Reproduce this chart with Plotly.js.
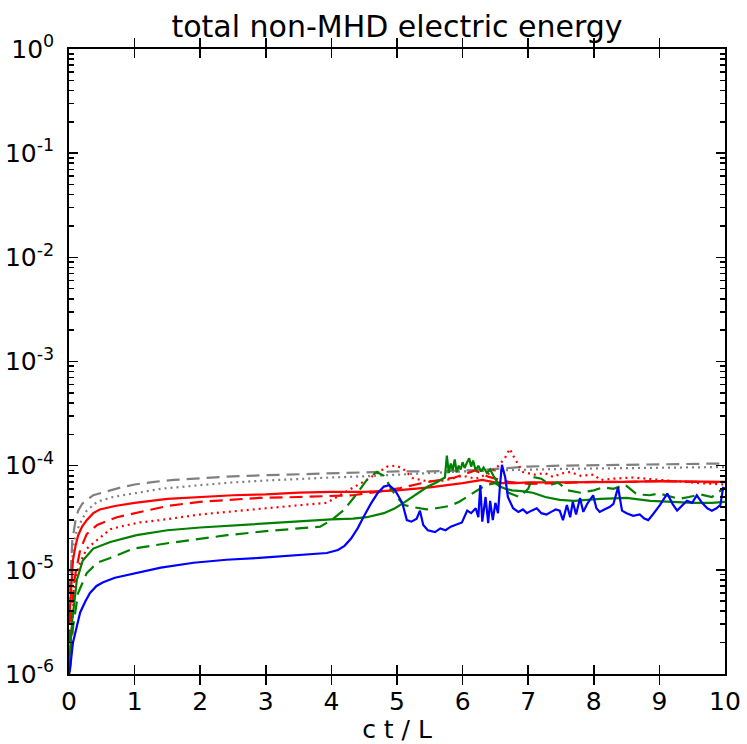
<!DOCTYPE html>
<html>
<head>
<meta charset="utf-8">
<script src="https://cdn.plot.ly/plotly-3.0.1.min.js"></script>
<style>
  html, body { margin: 0; padding: 0; background: #ffffff; }
  #chart { width: 747px; height: 744px; }
</style>
</head>
<body>
<div id="chart"></div>
<script>
// Time axis values (c t / L) and energy values for each run

const grayDashX = [0.01, 0.05, 0.1, 0.14, 0.2, 0.27, 0.37, 0.5, 0.63, 0.8,
  1.0, 1.3, 1.6, 2.0, 2.5, 3.0, 3.5, 4.0, 4.5, 5.0,
  5.5, 5.8, 6.0, 6.3, 6.6, 7.0, 7.5, 8.0, 8.5, 9.0, 9.5, 10.0];
const grayDashY = [6e-6, 1.9e-5, 3.0e-5, 3.7e-5, 4.3e-5, 4.7e-5, 5.2e-5, 5.5e-5, 5.8e-5, 6.2e-5,
  6.6e-5, 7.0e-5, 7.3e-5, 7.6e-5, 7.9e-5, 8.1e-5, 8.3e-5, 8.5e-5, 8.6e-5, 8.8e-5,
  8.8e-5, 8.9e-5, 9.0e-5, 9.1e-5, 9.4e-5, 9.8e-5, 1.0e-4, 1.01e-4, 1.02e-4, 1.03e-4, 1.04e-4, 1.05e-4];

const grayDotX = [0.01, 0.06, 0.1, 0.17, 0.27, 0.43, 0.67, 1.08, 1.4, 2.0,
  2.5, 3.0, 3.5, 4.0, 4.5, 5.0, 5.5, 6.0, 6.5, 7.0,
  7.5, 8.0, 8.5, 9.0, 9.5, 10.0];
const grayDotY = [4e-6, 1.6e-5, 2.2e-5, 2.8e-5, 3.7e-5, 4.5e-5, 5.0e-5, 5.5e-5, 6.0e-5, 6.5e-5,
  6.9e-5, 7.2e-5, 7.5e-5, 7.7e-5, 7.9e-5, 8.2e-5, 8.6e-5, 8.8e-5, 9.0e-5, 9.2e-5,
  9.3e-5, 9.4e-5, 9.5e-5, 9.5e-5, 9.6e-5, 9.7e-5];

const redSolidX = [0.0, 0.02, 0.06, 0.1, 0.14, 0.2, 0.27, 0.37, 0.47, 0.7,
  1.0, 1.5, 2.0, 2.5, 3.0, 3.5, 4.0, 4.5, 5.0, 5.5,
  6.0, 6.15, 6.3, 6.45, 6.6, 6.8, 7.0, 7.5, 8.0, 8.5,
  9.0, 9.5, 10.0];
const redSolidY = [3e-6, 5e-6, 1.24e-5, 1.7e-5, 2.15e-5, 2.6e-5, 3.0e-5, 3.5e-5, 3.8e-5, 4.1e-5,
  4.4e-5, 4.8e-5, 5.0e-5, 5.2e-5, 5.3e-5, 5.5e-5, 5.6e-5, 5.6e-5, 5.8e-5, 6.2e-5,
  6.8e-5, 7.1e-5, 7.3e-5, 7.0e-5, 6.8e-5, 6.8e-5, 6.9e-5, 6.9e-5, 6.9e-5, 7.0e-5,
  7.1e-5, 7.1e-5, 7.0e-5];

const redDashX = [0.0, 0.03, 0.09, 0.17, 0.27, 0.43, 0.73, 1.08, 1.5, 2.0,
  2.9, 3.5, 4.0, 4.33, 4.7, 5.05, 5.43, 5.88, 6.19, 6.4,
  6.7, 7.0, 7.5, 8.0, 8.5, 9.0, 9.5, 10.0];
const redDashY = [2e-6, 3.5e-6, 8.6e-6, 1.55e-5, 2.2e-5, 2.7e-5, 3.2e-5, 3.6e-5, 4.1e-5, 4.5e-5,
  4.9e-5, 5.0e-5, 5.1e-5, 5.2e-5, 5.6e-5, 6.1e-5, 6.9e-5, 7.7e-5, 9.0e-5, 7.8e-5,
  7.0e-5, 6.7e-5, 6.8e-5, 7.0e-5, 7.0e-5, 7.1e-5, 7.0e-5, 6.9e-5];

const redDotX = [0.0, 0.03, 0.09, 0.17, 0.27, 0.47, 0.63, 0.78, 1.08, 1.39,
  2.0, 3.0, 3.93, 4.28, 4.54, 4.7, 4.85, 4.97, 5.08, 5.24,
  5.4, 5.6, 5.8, 6.0, 6.2, 6.4, 6.55, 6.65, 6.72, 6.8,
  6.92, 7.1, 7.25, 7.38, 7.5, 7.64, 7.8, 8.0, 8.1, 8.3,
  8.6, 9.0, 9.3, 9.6, 10.0];
const redDotY = [1.2e-6, 2e-6, 8e-6, 1.17e-5, 1.6e-5, 2.05e-5, 2.45e-5, 2.6e-5, 2.85e-5, 3.0e-5,
  3.4e-5, 3.9e-5, 4.4e-5, 5.9e-5, 7.3e-5, 8.5e-5, 9.8e-5, 1.0e-4, 9.5e-5, 7.6e-5,
  7.2e-5, 7.0e-5, 7.4e-5, 8.0e-5, 7.5e-5, 8.4e-5, 1.0e-4, 1.2e-4, 1.45e-4, 1.15e-4,
  8.7e-5, 8.2e-5, 8.5e-5, 7.8e-5, 8.4e-5, 8.7e-5, 8.0e-5, 8.2e-5, 7.3e-5, 7.5e-5,
  7.7e-5, 7.3e-5, 7.0e-5, 6.8e-5, 6.6e-5];

const greenSolidX = [0.0, 0.02, 0.05, 0.12, 0.21, 0.37, 0.63, 1.03, 1.5, 2.0,
  2.4, 3.0, 3.5, 4.0, 4.33, 4.54, 4.8, 4.97, 5.1, 5.23,
  5.35, 5.47, 5.6, 5.73, 5.76, 5.79, 5.82, 5.85, 5.88, 5.91,
  5.94, 5.97, 6.0, 6.03, 6.06, 6.1, 6.13, 6.16, 6.2, 6.24,
  6.28, 6.32, 6.37, 6.42, 6.47, 6.52, 6.57, 6.65, 6.75, 6.9,
  7.07, 7.26, 7.48, 7.7, 8.1, 8.5, 8.86, 9.2, 9.51, 9.8,
  10.0];
const greenSolidY = [1.2e-6, 1.8e-6, 3.3e-6, 8e-6, 1.23e-5, 1.6e-5, 1.85e-5, 2.15e-5, 2.4e-5, 2.55e-5,
  2.65e-5, 2.8e-5, 2.95e-5, 3.05e-5, 3.1e-5, 3.2e-5, 3.5e-5, 3.9e-5, 4.4e-5, 5.0e-5,
  5.6e-5, 6.3e-5, 6.9e-5, 7.7e-5, 1.25e-4, 8.5e-5, 1.05e-4, 9.0e-5, 1.15e-4, 8.6e-5,
  1.0e-4, 9.2e-5, 1.08e-4, 9.5e-5, 1.05e-4, 1.18e-4, 9.8e-5, 1.12e-4, 9.0e-5, 1.0e-4,
  8.8e-5, 9.6e-5, 8.5e-5, 9.2e-5, 8.0e-5, 7.2e-5, 6.3e-5, 6.0e-5, 5.8e-5, 5.7e-5,
  5.5e-5, 5.0e-5, 4.7e-5, 4.6e-5, 4.8e-5, 4.9e-5, 4.6e-5, 4.5e-5, 4.4e-5, 4.4e-5,
  4.5e-5];

const greenDashX = [0.0, 0.02, 0.06, 0.14, 0.27, 0.43, 0.63, 0.98, 1.5, 2.0,
  2.41, 3.0, 3.5, 3.83, 4.0, 4.18, 4.35, 4.54, 4.69, 4.8,
  4.95, 5.1, 5.25, 5.45, 5.6, 5.8, 5.95, 6.06, 6.19, 6.35,
  6.5, 6.7, 6.87, 7.0, 7.07, 7.2, 7.33, 7.45, 7.6, 7.8,
  8.0, 8.14, 8.3, 8.47, 8.66, 8.85, 9.0, 9.15, 9.3, 9.45,
  9.62, 9.8, 9.9, 10.0];
const greenDashY = [1e-6, 1.2e-6, 2.8e-6, 6e-6, 9.3e-6, 1.17e-5, 1.3e-5, 1.6e-5, 1.8e-5, 2.0e-5,
  2.15e-5, 2.35e-5, 2.5e-5, 2.6e-5, 3.0e-5, 3.7e-5, 5.0e-5, 7.3e-5, 8.7e-5, 8.0e-5,
  5.5e-5, 4.2e-5, 4.0e-5, 3.8e-5, 3.9e-5, 4.1e-5, 4.5e-5, 5.0e-5, 5.6e-5, 6.5e-5,
  6.8e-5, 5.5e-5, 5.0e-5, 6.0e-5, 7.8e-5, 7.5e-5, 6.5e-5, 6.9e-5, 5.8e-5, 5.5e-5,
  5.8e-5, 6.2e-5, 6.0e-5, 6.6e-5, 5.3e-5, 5.2e-5, 5.4e-5, 5.1e-5, 4.8e-5, 5.0e-5,
  5.3e-5, 5.0e-5, 5.6e-5, 6.1e-5];

const blueX = [0.0, 0.015, 0.06, 0.12, 0.17, 0.25, 0.32, 0.42, 0.52, 0.7,
  0.88, 1.05, 1.4, 1.9, 2.4, 2.9, 3.4, 3.93, 4.1, 4.2,
  4.3, 4.4, 4.5, 4.6, 4.7, 4.8, 4.88, 4.97, 5.08, 5.15, 5.22,
  5.3, 5.35, 5.4, 5.47, 5.58, 5.66, 5.74, 5.82, 5.88, 5.99,
  6.07, 6.13, 6.2, 6.24, 6.27, 6.3, 6.35, 6.39, 6.42, 6.46,
  6.5, 6.54, 6.57, 6.6, 6.65, 6.69, 6.77, 6.85, 6.92, 6.98,
  7.05, 7.13, 7.2, 7.28, 7.35, 7.42, 7.48, 7.53, 7.59, 7.64,
  7.68, 7.73, 7.79, 7.84, 7.9, 7.99, 8.04, 8.09, 8.16, 8.24,
  8.3, 8.37, 8.43, 8.5, 8.6, 8.7, 8.77, 8.83, 8.9, 9.01,
  9.12, 9.2, 9.27, 9.35, 9.42, 9.5, 9.57, 9.65, 9.73, 9.8,
  9.87, 9.93, 9.97, 10.0];
const blueY = [1e-6, 1.1e-6, 2.0e-6, 3.0e-6, 3.9e-6, 5.0e-6, 6.0e-6, 7.0e-6, 7.6e-6, 8.4e-6,
  8.9e-6, 9.5e-6, 1.05e-5, 1.17e-5, 1.25e-5, 1.3e-5, 1.37e-5, 1.45e-5, 1.55e-5, 1.7e-5,
  2.0e-5, 2.5e-5, 3.3e-5, 4.3e-5, 5.4e-5, 6.3e-5, 6.5e-5, 5.8e-5, 4.4e-5, 3.0e-5, 2.9e-5,
  3.1e-5, 3.7e-5, 2.7e-5, 2.4e-5, 2.3e-5, 2.5e-5, 2.4e-5, 2.6e-5, 2.7e-5, 2.85e-5,
  3.7e-5, 3.5e-5, 3.9e-5, 3.2e-5, 6.5e-5, 2.9e-5, 5.0e-5, 2.8e-5, 4.6e-5, 3.0e-5,
  4.4e-5, 3.5e-5, 6.5e-5, 1.02e-4, 7.7e-5, 5.0e-5, 3.9e-5, 3.6e-5, 3.8e-5, 3.5e-5,
  3.7e-5, 3.9e-5, 3.5e-5, 3.4e-5, 3.6e-5, 3.8e-5, 3.7e-5, 3.0e-5, 4.2e-5, 3.2e-5,
  4.5e-5, 3.4e-5, 4.9e-5, 3.6e-5, 4.3e-5, 5.2e-5, 3.9e-5, 3.6e-5, 3.8e-5, 4.0e-5,
  4.3e-5, 6.2e-5, 3.7e-5, 3.5e-5, 3.3e-5, 3.4e-5, 3.1e-5, 3.0e-5, 3.4e-5, 4.2e-5,
  5.4e-5, 4.3e-5, 3.7e-5, 4.2e-5, 4.6e-5, 4.4e-5, 5.2e-5, 4.4e-5, 3.9e-5, 3.7e-5,
  3.9e-5, 4.2e-5, 6.1e-5, 6.0e-5];

// Axis ticks
const xTickVals = [0, 1, 2, 3, 4, 5, 6, 7, 8, 9, 10];
const yTickVals = [1e-6, 1e-5, 1e-4, 1e-3, 1e-2, 1e-1, 1];
const yTickText = ['10<sup>-6</sup>', '10<sup>-5</sup>', '10<sup>-4</sup>', '10<sup>-3</sup>',
  '10<sup>-2</sup>', '10<sup>-1</sup>', '10<sup>0</sup>'];

// minor ticks at 2..9 within each decade
const yMinorVals = [];
for (let d = -6; d < 0; d++) {
  for (let m = 2; m <= 9; m++) yMinorVals.push(m * Math.pow(10, d));
}

const DASHED = '13px,7px';
const DOTTED = '2px,4px';

function line(x, y, color, dash) {
  return {
    x: x, y: y, type: 'scatter', mode: 'lines',
    line: { color: color, width: 2.2, dash: dash },
    hoverinfo: 'skip', showlegend: false
  };
}

const traces = [
  line(grayDashX, grayDashY, '#808080', DASHED),
  line(grayDotX, grayDotY, '#808080', DOTTED),
  line(redSolidX, redSolidY, '#ff0000', 'solid'),
  line(redDashX, redDashY, '#ff0000', DASHED),
  line(redDotX, redDotY, '#ff0000', DOTTED),
  line(greenSolidX, greenSolidY, '#008000', 'solid'),
  line(greenDashX, greenDashY, '#008000', DASHED),
  line(blueX, blueY, '#0000ff', 'solid'),
  // empty trace that attaches the minor-tick axis
  { x: [], y: [], type: 'scatter', mode: 'lines', yaxis: 'y2', hoverinfo: 'skip', showlegend: false }
];

const FONT = 'DejaVu Sans, sans-serif';

const layout = {
  width: 747, height: 744,
  margin: { l: 69, r: 22, t: 49, b: 70 },
  paper_bgcolor: '#ffffff', plot_bgcolor: '#ffffff',
  font: { family: FONT, color: '#000000', size: 25 },
  title: {
    text: 'total non-MHD electric energy',
    font: { family: FONT, size: 30, color: '#000000' },
    xref: 'paper', x: 0.5, xanchor: 'center',
    yref: 'container', y: 1 - 26 / 744, yanchor: 'middle'
  },
  xaxis: {
    range: [0, 10], tickmode: 'array', tickvals: xTickVals,
    ticks: 'inside', ticklen: 9, tickwidth: 1.6, tickcolor: '#000000',
    showline: true, linecolor: '#000000', linewidth: 1.8, mirror: 'allticks',
    showgrid: false, zeroline: false,
    tickfont: { family: FONT, size: 25 },
    ticklabelstandoff: 4,
    automargin: false,
    title: { text: 'c t / L', font: { family: FONT, size: 25 }, standoff: 10 }
  },
  yaxis: {
    type: 'log', range: [-6, 0],
    tickmode: 'array', tickvals: yTickVals, ticktext: yTickText,
    ticks: 'inside', ticklen: 9, tickwidth: 1.6, tickcolor: '#000000',
    showline: true, linecolor: '#000000', linewidth: 1.8, mirror: 'allticks',
    showgrid: false, zeroline: false,
    tickfont: { family: FONT, size: 25 },
    ticklabelstandoff: 8,
    automargin: false
  },
  // overlaid log axis carrying the 2..9 minor ticks on both sides
  yaxis2: {
    type: 'log', range: [-6, 0], overlaying: 'y', side: 'left',
    tickmode: 'array', tickvals: yMinorVals,
    ticks: 'inside', ticklen: 5, tickwidth: 1.6, tickcolor: '#000000',
    showticklabels: false, showline: true, linecolor: '#000000', linewidth: 1.8,
    mirror: 'ticks', showgrid: false, zeroline: false, automargin: false
  }
};

Plotly.newPlot('chart', traces, layout, { staticPlot: true, displayModeBar: false });
</script>
</body>
</html>
